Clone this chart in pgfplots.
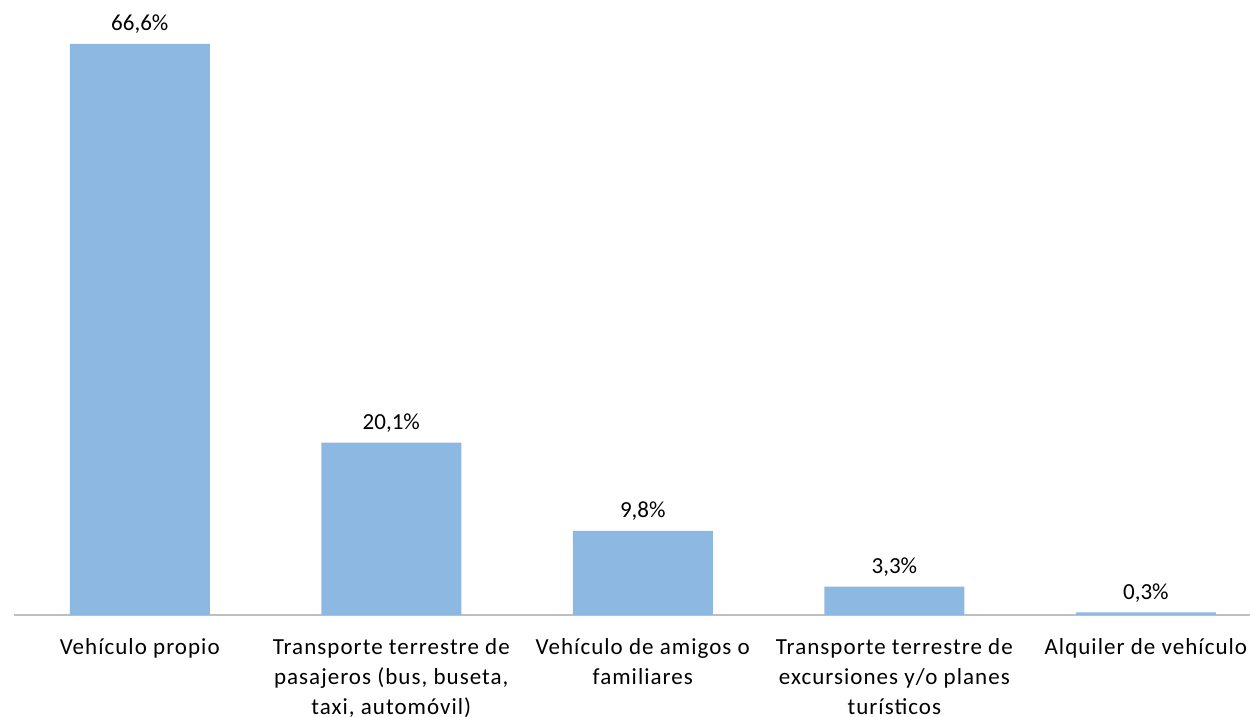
\documentclass[border=0pt]{standalone}
\usepackage{pgfplots}
\pgfplotsset{compat=1.18}
\usepackage{fontspec}
\setmainfont{Carlito}
\newfontfamily\catfont[LetterSpace=4.5]{Carlito}
\definecolor{barblue}{RGB}{141,184,226}
\definecolor{axisgray}{RGB}{191,191,191}
\begin{document}
\begin{tikzpicture}
\path[use as bounding box] (-7pt,-51pt) rectangle (618pt,307.5pt);
\begin{axis}[
  at={(0,0)}, anchor=south west,
  scale only axis,
  width=618pt, height=307.5pt,
  xmin=-0.5, xmax=4.414,
  ymin=0, ymax=71.73,
  axis y line=none,
  axis x line*=bottom,
  x axis line style={draw=axisgray, line width=1pt, -},
  xtick={0,1,2,3,4},
  xticklabels={{Vehículo propio},{Transporte terrestre de\\pasajeros (bus, buseta,\\taxi, automóvil)},{Vehículo de amigos o\\familiares},{Transporte terrestre de\\excursiones y/o planes\\turísticos},{Alquiler de vehículo}},
  xticklabel style={align=center, font=\catfont\fontsize{11.5}{15}\selectfont, anchor=north, yshift=-8pt},
  major tick length=0pt,
  tick style={draw=none},
  ybar, bar width=70pt,
  nodes near coords={\pgfmathprintnumber[fixed,fixed zerofill,precision=1,use comma,assume math mode=true]{\pgfplotspointmeta}\%},
  every node near coord/.append style={font=\fontsize{11.5}{13}\selectfont, text=black, yshift=1.5pt},
  /pgf/number format/assume math mode=true,
  clip=false,
]
\addplot[fill=barblue, draw=none] coordinates {(0,66.6) (1,20.1) (2,9.8) (3,3.3) (4,0.3)};
\end{axis}
\end{tikzpicture}
\end{document}
